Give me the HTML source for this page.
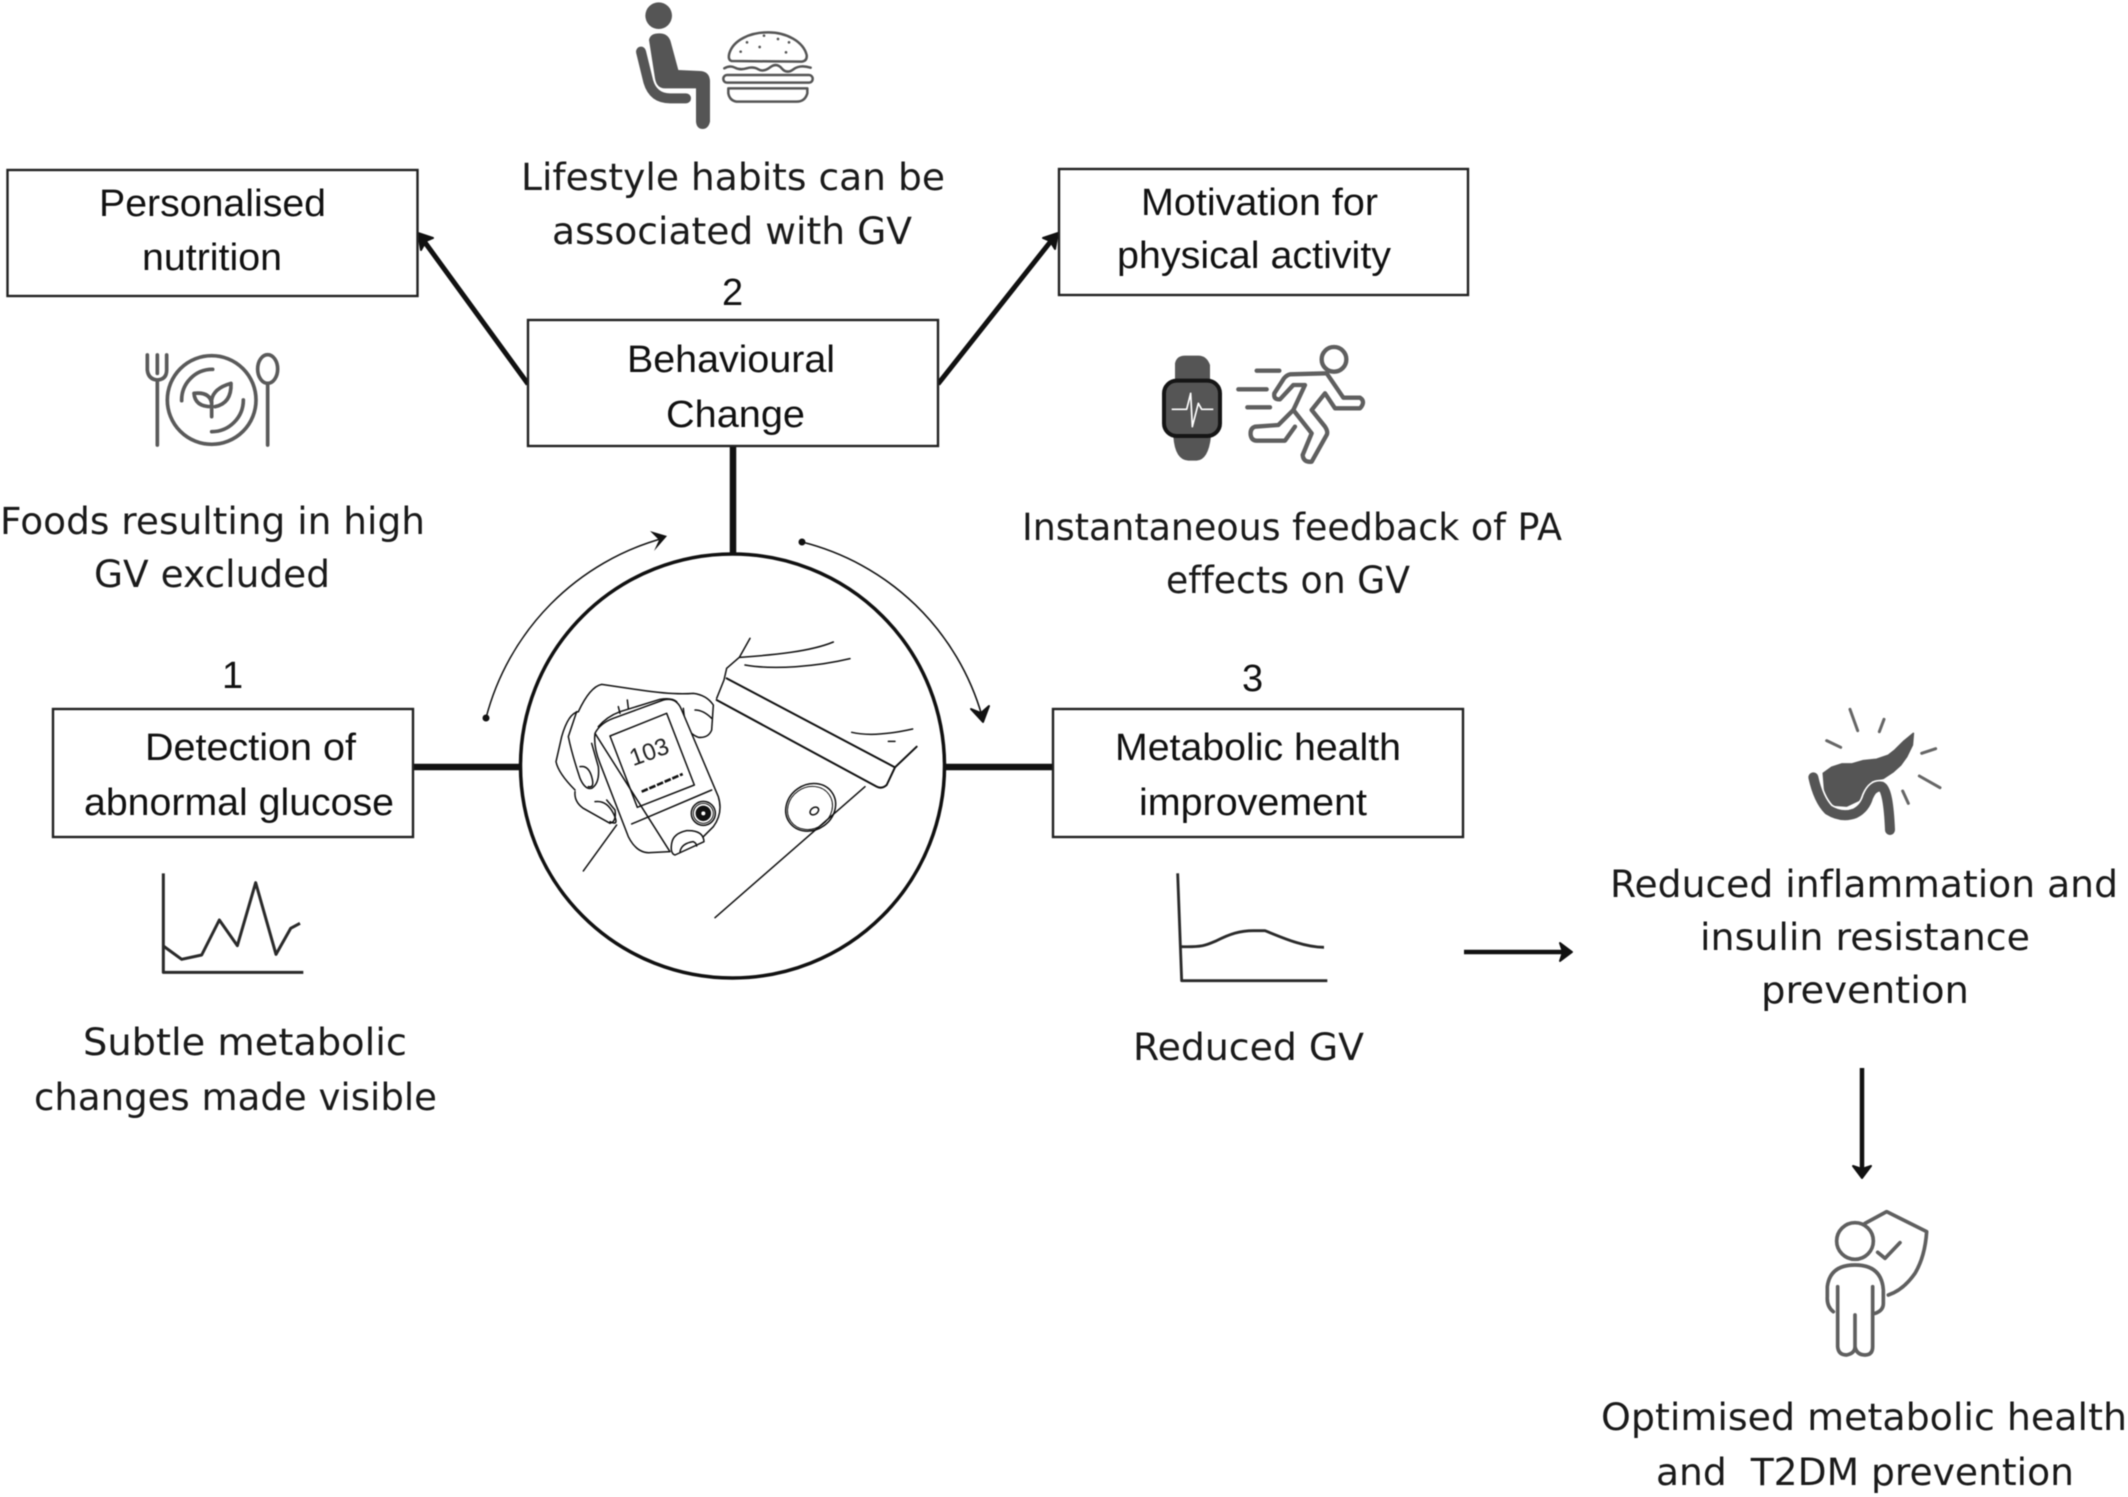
<!DOCTYPE html>
<html lang="en">
<head>
<meta charset="utf-8">
<title>Glucose monitoring diagram</title>
<style>
html,body{margin:0;padding:0;background:#fff;width:2128px;height:1497px;overflow:hidden}
svg{display:block;filter:blur(.55px)}
.b{font-family:"Liberation Sans",sans-serif;font-size:38px;fill:#111}
.t{font-family:"DejaVu Sans",sans-serif;font-size:37px;fill:#1a1a1a;font-variant-ligatures:none}
.box{fill:#fff;stroke:#222;stroke-width:2.4}
</style>
</head>
<body>
<svg width="2128" height="1497" viewBox="0 0 2128 1497" xmlns="http://www.w3.org/2000/svg">
<rect width="2128" height="1497" fill="#fff"/>

<!-- connectors -->
<g stroke="#111" fill="none" stroke-linecap="butt">
<path d="M733 446V554" stroke-width="6.5"/>
<path d="M413 767H520" stroke-width="6.5"/>
<path d="M945 767H1053" stroke-width="6.5"/>
<path d="M528 384L421 237" stroke-width="5"/>
<path d="M938 384L1055 236" stroke-width="5"/>
<path d="M1464 952H1568" stroke-width="4.5"/>
<path d="M1862 1068V1174" stroke-width="4.5"/>
<path d="M486 718A252 252 0 0 1 664 538" stroke-width="1.5"/>
<path d="M802 542A250 250 0 0 1 982 716" stroke-width="1.6"/>
</g>
<g fill="#111" stroke="#111" stroke-width="2" stroke-linejoin="round">
<path d="M418 233L433 238L426 241L421 250Z"/>
<path d="M1058 233L1055 249L1050 241L1043 238Z"/>
<path d="M1572 952L1560 943L1563 952L1560 961Z"/>
<path d="M1862 1178L1853 1166L1862 1169L1871 1166Z"/>
<path d="M983 722L971 709L981 713L989 706Z"/>
</g>
<g fill="#111" stroke="none">
<path d="M667 536L650 531L659 540L654 551Z"/>
<circle cx="486" cy="718" r="3.5"/>
<circle cx="802" cy="542" r="3.5"/>
</g>

<!-- boxes -->
<rect class="box" x="7.5" y="170" width="410" height="126"/>
<rect class="box" x="1059" y="169" width="409" height="126"/>
<rect class="box" x="528" y="320" width="410" height="126"/>
<rect class="box" x="53" y="709" width="360" height="128"/>
<rect class="box" x="1053" y="709" width="410" height="128"/>

<!-- central circle -->
<circle cx="732.5" cy="766" r="212" fill="#fff" stroke="#111" stroke-width="3.5"/>

<!-- illustration -->
<g transform="translate(500,520) scale(.33333)" fill="none" stroke="#111" stroke-width="4.5" stroke-linecap="round" stroke-linejoin="round">
<path d="M750 355L718 412L680 445L672 480L650 535"/>
<path d="M720 412C820 405 930 395 1000 366"/>
<path d="M735 435C820 450 950 440 1050 416"/>
<path d="M680 475L1185 742" stroke-width="6"/>
<path d="M650 540L1130 800Q1145 808 1160 795L1185 742L1250 680" stroke-width="6"/>
<path d="M1055 637C1110 650 1180 640 1238 627"/>
<path d="M1165 664H1185"/>
<path d="M1095 800L645 1193"/>
<ellipse cx="932" cy="862" rx="78" ry="68" transform="rotate(-35 932 862)"/>
<ellipse cx="930" cy="864" rx="70" ry="62" transform="rotate(-35 930 864)" stroke-width="3"/>
<ellipse cx="943" cy="873" rx="14" ry="10" transform="rotate(-35 943 873)"/>
<!-- hand -->
<path d="M235 575Q270 500 305 493L420 510Q520 525 580 520Q620 525 640 555L635 630Q625 655 595 652Q565 640 555 610L550 565"/>
<path d="M585 570Q610 570 635 595"/>
<path d="M235 575Q205 580 185 650L168 725Q175 760 225 810"/>
<path d="M230 575L205 650Q215 700 240 775Q255 810 275 805Q300 790 295 740L275 670"/>
<path d="M240 740Q265 735 275 770T265 800"/>
<path d="M225 815Q222 845 250 865L330 910Q350 905 345 870L320 840"/>
<path d="M285 845Q320 840 340 880T330 905"/>
<path d="M350 915L250 1053"/>
<path d="M360 580L355 560M385 565L382 540"/>
<!-- device -->
<path d="M285 640Q300 610 340 595L490 540Q530 530 545 570L655 830Q670 880 640 920L610 950M510 995L450 998Q410 1000 385 950L300 730Q280 680 285 640Z" fill="#fff"/>
<path d="M295 620Q320 590 360 575L480 538Q515 532 530 545"/>
<path d="M330 648L500 580L583 795L412 862Z"/>
<path d="M425 815L548 762" stroke-width="8" stroke-dasharray="20 5" stroke-linecap="butt"/>
<path d="M395 912L635 810"/>
<circle cx="610" cy="880" r="36"/>
<circle cx="610" cy="880" r="30" stroke-width="3"/>
<circle cx="610" cy="880" r="21" fill="#111"/>
<circle cx="610" cy="880" r="6" fill="#fff" stroke="none"/>
<path d="M515 970Q520 940 560 932Q610 930 612 965L525 1005Q510 1000 515 970Z" fill="#fff"/>
<path d="M540 995Q545 970 580 965Q590 970 590 978"/>
<text transform="rotate(-20 440 690)" x="385" y="722" font-family="'Liberation Sans',sans-serif" font-size="72" fill="#222" stroke="none">103</text>
</g>

<!-- seated man and burger -->
<g transform="translate(600,0) scale(.33333)">
<g fill="#555">
<circle cx="176" cy="47" r="40"/>
<path d="M147 120Q150 100 178 100Q205 100 212 125L235 210L300 213Q330 215 330 245L330 365Q325 387 308 387Q290 387 288 365L288 265L195 265Q170 265 165 235Z"/>
</g>
<path d="M123 155L145 245Q160 295 210 295L258 295" fill="none" stroke="#555" stroke-width="30" stroke-linecap="round"/>
<g fill="none" stroke="#555" stroke-width="7.5" stroke-linecap="round" stroke-linejoin="round">
<path d="M395 183Q383 180 388 160C400 120 450 97 505 97C560 97 610 125 620 165Q622 183 605 185Z"/>
<path d="M373 205Q390 195 405 203T440 205T475 208T510 202T545 205T580 208T632 203"/>
<rect x="370" y="225" width="268" height="23" rx="11"/>
<path d="M385 265L622 265L622 280Q615 305 590 305L415 305Q390 305 385 280Z"/>
</g>
<g fill="#555"><circle cx="441" cy="127" r="4"/><circle cx="492" cy="107" r="4"/><circle cx="534" cy="117" r="4"/><circle cx="567" cy="127" r="4"/><circle cx="479" cy="141" r="4"/><circle cx="422" cy="155" r="4"/><circle cx="558" cy="157" r="4"/></g>
</g>

<!-- plate -->
<g transform="translate(130,340) scale(.33333)" fill="none" stroke="#5a5a5a" stroke-width="11" stroke-linecap="round" stroke-linejoin="round">
<path d="M82 315V120M52 45V90Q55 118 82 120Q110 118 110 90V45M82 45V100"/>
<circle cx="245" cy="180" r="133"/>
<path d="M155 182A92 92 0 0 1 248 88"/>
<path d="M340 180A95 95 0 0 1 245 275"/>
<path d="M245 230V185M245 190Q240 155 192 160Q195 200 245 200M245 180Q250 145 303 130Q305 190 255 200"/>
<ellipse cx="413" cy="87" rx="30" ry="43"/>
<path d="M413 130V315"/>
</g>

<!-- watch and runner -->
<g transform="translate(1130,330) scale(.33333)">
<path d="M135 150V100Q140 77 165 77H205Q230 77 240 105V150Z" fill="#555"/>
<path d="M130 320Q135 390 175 392H200Q235 390 243 320Z" fill="#555"/>
<rect x="102" y="152" width="168" height="166" rx="38" fill="#555" stroke="#151515" stroke-width="12"/>
<path d="M125 238H170L182 190L187 290L205 220L215 238H250" fill="none" stroke="#fff" stroke-width="5" stroke-linejoin="round"/>
<g fill="none" stroke="#5f5f5f" stroke-width="13" stroke-linecap="round" stroke-linejoin="round">
<circle cx="612" cy="88" r="37"/>
<path d="M380 122H448M325 178H410M352 232H420"/>
<path d="M590 130L480 133Q470 135 462 145L433 190Q430 210 450 208L490 165H525L490 240L445 285L375 290Q360 295 362 315Q365 332 380 332H465L495 290"/>
<path d="M490 240L545 310L518 375Q520 398 545 395L590 315Q595 305 585 290L545 240L585 190L615 235H690Q708 215 690 203H640L590 130"/>
</g>
</g>

<!-- glucose charts -->
<g transform="translate(140,860) scale(.33333)" fill="none" stroke="#2a2a2a" stroke-width="9" stroke-linejoin="round">
<path d="M70 40V337H490"/>
<path d="M70 258L125 298L185 285L238 180L292 257L347 68L408 283L452 205L480 190"/>
</g>
<g transform="translate(1160,860) scale(.33333)" fill="none" stroke="#2a2a2a" stroke-width="8.5" stroke-linejoin="round">
<path d="M53 40L65 362H502"/>
<path d="M62 260C130 262 140 255 170 242C210 222 240 212 280 212H315C360 230 430 262 492 262"/>
</g>

<!-- pancreas -->
<g transform="translate(1780,690) scale(.33333)">
<path d="M130 250L155 232L185 222L215 222L250 212L290 208L325 196L345 180L370 155L400 130L397 165L380 200L362 225L340 245L310 265L275 272L258 295L238 330L200 348L160 345L135 310Z" fill="#555" stroke="#555" stroke-width="5" stroke-linejoin="round"/>
<path d="M100 262Q115 330 145 360Q185 385 225 370Q255 355 265 320Q280 285 305 290Q325 300 330 420" fill="none" stroke="#fff" stroke-width="40" stroke-linecap="round"/>
<path d="M100 262Q115 330 145 360Q185 385 225 370Q255 355 265 320Q280 285 305 290Q325 300 330 420" fill="none" stroke="#555" stroke-width="30" stroke-linecap="round"/>
<path d="M210 58L233 122M312 88L298 125M140 152L182 172M467 176L425 190M418 258L480 293M368 303L385 340" stroke="#666" stroke-width="9" stroke-linecap="round"/>
</g>

<!-- person with shield -->
<g transform="translate(1800,1190) scale(.33333)" fill="none" stroke="#5f5f5f" stroke-width="11" stroke-linecap="round" stroke-linejoin="round">
<circle cx="165" cy="153" r="55"/>
<path d="M100 365Q80 350 82 320V290Q90 225 165 225Q245 225 250 300V340Q250 362 225 370"/>
<path d="M113 290V470Q115 495 140 495Q165 490 165 470V375M165 470Q170 495 195 495Q218 495 218 470V290"/>
<path d="M195 100L260 65L380 125Q375 200 345 250Q310 300 265 315"/>
<path d="M233 187L255 205L300 158"/>
</g>

<!-- box labels -->
<text class="b" x="99" y="216" textLength="227" lengthAdjust="spacingAndGlyphs">Personalised</text>
<text class="b" x="142" y="270" textLength="140" lengthAdjust="spacingAndGlyphs">nutrition</text>
<text class="b" x="1141" y="215" textLength="237" lengthAdjust="spacingAndGlyphs">Motivation for</text>
<text class="b" x="1117" y="268" textLength="274" lengthAdjust="spacingAndGlyphs">physical activity</text>
<text class="b" x="627" y="372" textLength="208" lengthAdjust="spacingAndGlyphs">Behavioural</text>
<text class="b" x="666" y="427" textLength="139" lengthAdjust="spacingAndGlyphs">Change</text>
<text class="b" x="145" y="760" textLength="211" lengthAdjust="spacingAndGlyphs">Detection of</text>
<text class="b" x="84" y="815" textLength="310" lengthAdjust="spacingAndGlyphs">abnormal glucose</text>
<text class="b" x="1115" y="760" textLength="286" lengthAdjust="spacingAndGlyphs">Metabolic health</text>
<text class="b" x="1139" y="815" textLength="228" lengthAdjust="spacingAndGlyphs">improvement</text>
<text class="b" x="222" y="688">1</text>
<text class="b" x="722" y="305">2</text>
<text class="b" x="1242" y="691">3</text>

<!-- body text -->
<text class="t" x="521" y="190" textLength="424" lengthAdjust="spacingAndGlyphs">Lifestyle habits can be</text>
<text class="t" x="552" y="244" textLength="360" lengthAdjust="spacingAndGlyphs">associated with GV</text>
<text class="t" x="0" y="534" textLength="425" lengthAdjust="spacingAndGlyphs">Foods resulting in high</text>
<text class="t" x="94" y="587" textLength="236" lengthAdjust="spacingAndGlyphs">GV excluded</text>
<text class="t" x="1022" y="540" textLength="540" lengthAdjust="spacingAndGlyphs">Instantaneous feedback of PA</text>
<text class="t" x="1166" y="593" textLength="244" lengthAdjust="spacingAndGlyphs">effects on GV</text>
<text class="t" x="83" y="1055" textLength="324" lengthAdjust="spacingAndGlyphs">Subtle metabolic</text>
<text class="t" x="34" y="1110" textLength="403" lengthAdjust="spacingAndGlyphs">changes made visible</text>
<text class="t" x="1133" y="1060" textLength="231" lengthAdjust="spacingAndGlyphs">Reduced GV</text>
<text class="t" x="1610" y="897" textLength="508" lengthAdjust="spacingAndGlyphs">Reduced inflammation and</text>
<text class="t" x="1700" y="950" textLength="330" lengthAdjust="spacingAndGlyphs">insulin resistance</text>
<text class="t" x="1761" y="1003" textLength="208" lengthAdjust="spacingAndGlyphs">prevention</text>
<text class="t" x="1601" y="1430" textLength="526" lengthAdjust="spacingAndGlyphs">Optimised metabolic health</text>
<text class="t" x="1656" y="1485" textLength="418" lengthAdjust="spacingAndGlyphs" xml:space="preserve">and  T2DM prevention</text>
</svg>
</body>
</html>
